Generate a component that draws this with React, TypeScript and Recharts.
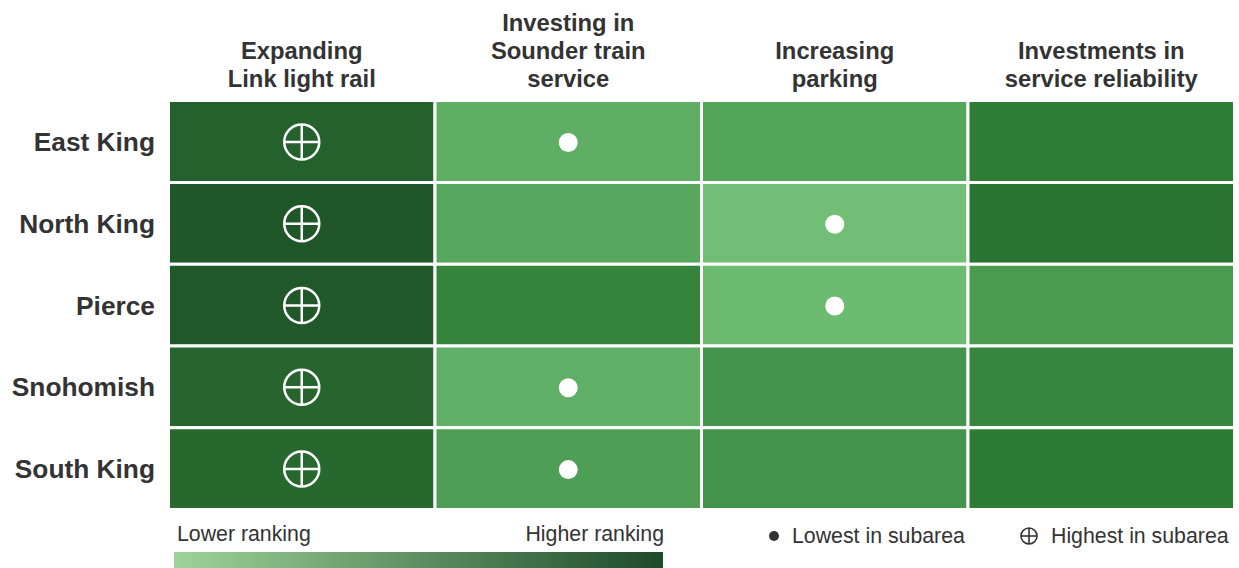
import React from "react";
import {
  ReferenceArea,
  Scatter,
  ScatterChart,
  XAxis,
  YAxis,
} from "recharts";

const subareas = ["East King", "North King", "Pierce", "Snohomish", "South King"];

const priorities = [
  ["Expanding", "Link light rail"],
  ["Investing in", "Sounder train", "service"],
  ["Increasing", "parking"],
  ["Investments in", "service reliability"],
];

// ranking score per subarea (0 = lower ranking, 1 = higher ranking)
const linkScores = [0.9, 0.99, 0.98, 0.86, 0.84];
const sounderScores = [0.22, 0.28, 0.6, 0.2, 0.37];
const parkingScores = [0.32, 0.03, 0.08, 0.46, 0.47];
const reliabilityScores = [0.66, 0.75, 0.41, 0.58, 0.68];

// column index of highest / lowest priority in each subarea
const highestCol = [0, 0, 0, 0, 0];
const lowestCol = [1, 2, 2, 1, 1];

const scoreColumns = [linkScores, sounderScores, parkingScores, reliabilityScores];

const FONT = '"Liberation Sans", Arial, Helvetica, sans-serif';
const TEXT = "#333333";

const colorStops: [number, number[]][] = [
  [0, [0x76, 0xc1, 0x79]],
  [0.33, [0x52, 0xa4, 0x59]],
  [0.66, [0x2f, 0x7d, 0x35]],
  [1, [0x20, 0x56, 0x29]],
];

function scoreColor(v: number) {
  for (let i = 1; i < colorStops.length; i++) {
    const [p1, c1] = colorStops[i];
    const [p0, c0] = colorStops[i - 1];
    if (v <= p1) {
      const t = (v - p0) / (p1 - p0);
      const c = c0.map((a, k) => Math.round(a + (c1[k] - a) * t));
      return `rgb(${c[0]},${c[1]},${c[2]})`;
    }
  }
  const last = colorStops[colorStops.length - 1][1];
  return `rgb(${last[0]},${last[1]},${last[2]})`;
}

const highestPoints = highestCol.map((c, r) => ({ x: c + 0.5, y: r + 0.5 }));
const lowestPoints = lowestCol.map((c, r) => ({ x: c + 0.5, y: r + 0.5 }));

function HeaderTick(props: any) {
  const { x, payload } = props;
  const lines = priorities[Math.floor(payload.value)] ?? [];
  const lastBaseline = 87;
  return (
    <g>
      {lines.map((line, i) => (
        <text
          key={i}
          x={x}
          y={lastBaseline - (lines.length - 1 - i) * 28}
          textAnchor="middle"
          fontFamily={FONT}
          fontWeight={700}
          fontSize={23.8}
          fill={TEXT}
        >
          {line}
        </text>
      ))}
    </g>
  );
}

function RowTick(props: any) {
  const { y, payload } = props;
  return (
    <text
      x={155}
      y={y}
      dy={9.5}
      textAnchor="end"
      fontFamily={FONT}
      fontWeight={700}
      fontSize={26.3}
      fill={TEXT}
    >
      {subareas[Math.floor(payload.value)]}
    </text>
  );
}

function HighMarker(props: any) {
  const { cx, cy } = props;
  const r = 17.5;
  return (
    <g stroke="#ffffff" strokeWidth={2.5} fill="none">
      <circle cx={cx} cy={cy + 0.5} r={r} />
      <line x1={cx - r} y1={cy + 0.5} x2={cx + r} y2={cy + 0.5} />
      <line x1={cx} y1={cy + 0.5 - r} x2={cx} y2={cy + 0.5 + r} />
    </g>
  );
}

function LowMarker(props: any) {
  const { cx, cy } = props;
  return <circle cx={cx} cy={cy + 1} r={9.5} fill="#ffffff" />;
}

const legendText: React.CSSProperties = {
  position: "absolute",
  fontSize: 21.3,
  color: TEXT,
  lineHeight: "26px",
};

export default function App() {
  return (
    <div
      style={{
        position: "absolute",
        left: 0,
        top: 0,
        width: 1239,
        height: 568,
        background: "#ffffff",
        overflow: "hidden",
        fontFamily: FONT,
      }}
    >
      <ScatterChart
        width={1239}
        height={568}
        margin={{ top: 100.5, right: 4.5, bottom: 58.5, left: 0 }}
      >
        <XAxis
          type="number"
          dataKey="x"
          orientation="top"
          domain={[0, 4]}
          ticks={[0.5, 1.5, 2.5, 3.5]}
          axisLine={false}
          tickLine={false}
          tick={<HeaderTick />}
          height={0.1}
          interval={0}
        />
        <YAxis
          type="number"
          dataKey="y"
          domain={[0, 5]}
          reversed
          ticks={[0.5, 1.5, 2.5, 3.5, 4.5]}
          axisLine={false}
          tickLine={false}
          tick={<RowTick />}
          width={168.5}
          interval={0}
        />
        {scoreColumns.map((col, c) =>
          col.map((v, r) => (
            <ReferenceArea
              key={`${c}-${r}`}
              x1={c}
              x2={c + 1}
              y1={r}
              y2={r + 1}
              fill={scoreColor(v)}
              fillOpacity={1}
              stroke="#ffffff"
              strokeWidth={3}
              ifOverflow="visible"
            />
          ))
        )}
        <Scatter
          data={highestPoints}
          shape={<HighMarker />}
          isAnimationActive={false}
        />
        <Scatter
          data={lowestPoints}
          shape={<LowMarker />}
          isAnimationActive={false}
        />
      </ScatterChart>

      <div style={{ ...legendText, left: 177, top: 521 }}>Lower ranking</div>
      <div style={{ ...legendText, right: 1239 - 664, top: 521 }}>
        Higher ranking
      </div>
      <div
        style={{
          position: "absolute",
          left: 174,
          top: 552,
          width: 489,
          height: 16,
          background: "linear-gradient(90deg, #9ed49a, #1e4a29)",
        }}
      />
      <div
        style={{
          ...legendText,
          left: 768,
          top: 523,
          display: "flex",
          alignItems: "center",
          gap: 12,
        }}
      >
        <svg width={12} height={12}>
          <circle cx={6} cy={6} r={5} fill={TEXT} />
        </svg>
        <span>Lowest in subarea</span>
      </div>
      <div
        style={{
          ...legendText,
          left: 1019,
          top: 523,
          display: "flex",
          alignItems: "center",
          gap: 12,
        }}
      >
        <svg width={20} height={20}>
          <g stroke={TEXT} strokeWidth={1.6} fill="none">
            <circle cx={10} cy={10} r={8} />
            <line x1={2} y1={10} x2={18} y2={10} />
            <line x1={10} y1={2} x2={10} y2={18} />
          </g>
        </svg>
        <span>Highest in subarea</span>
      </div>
    </div>
  );
}
